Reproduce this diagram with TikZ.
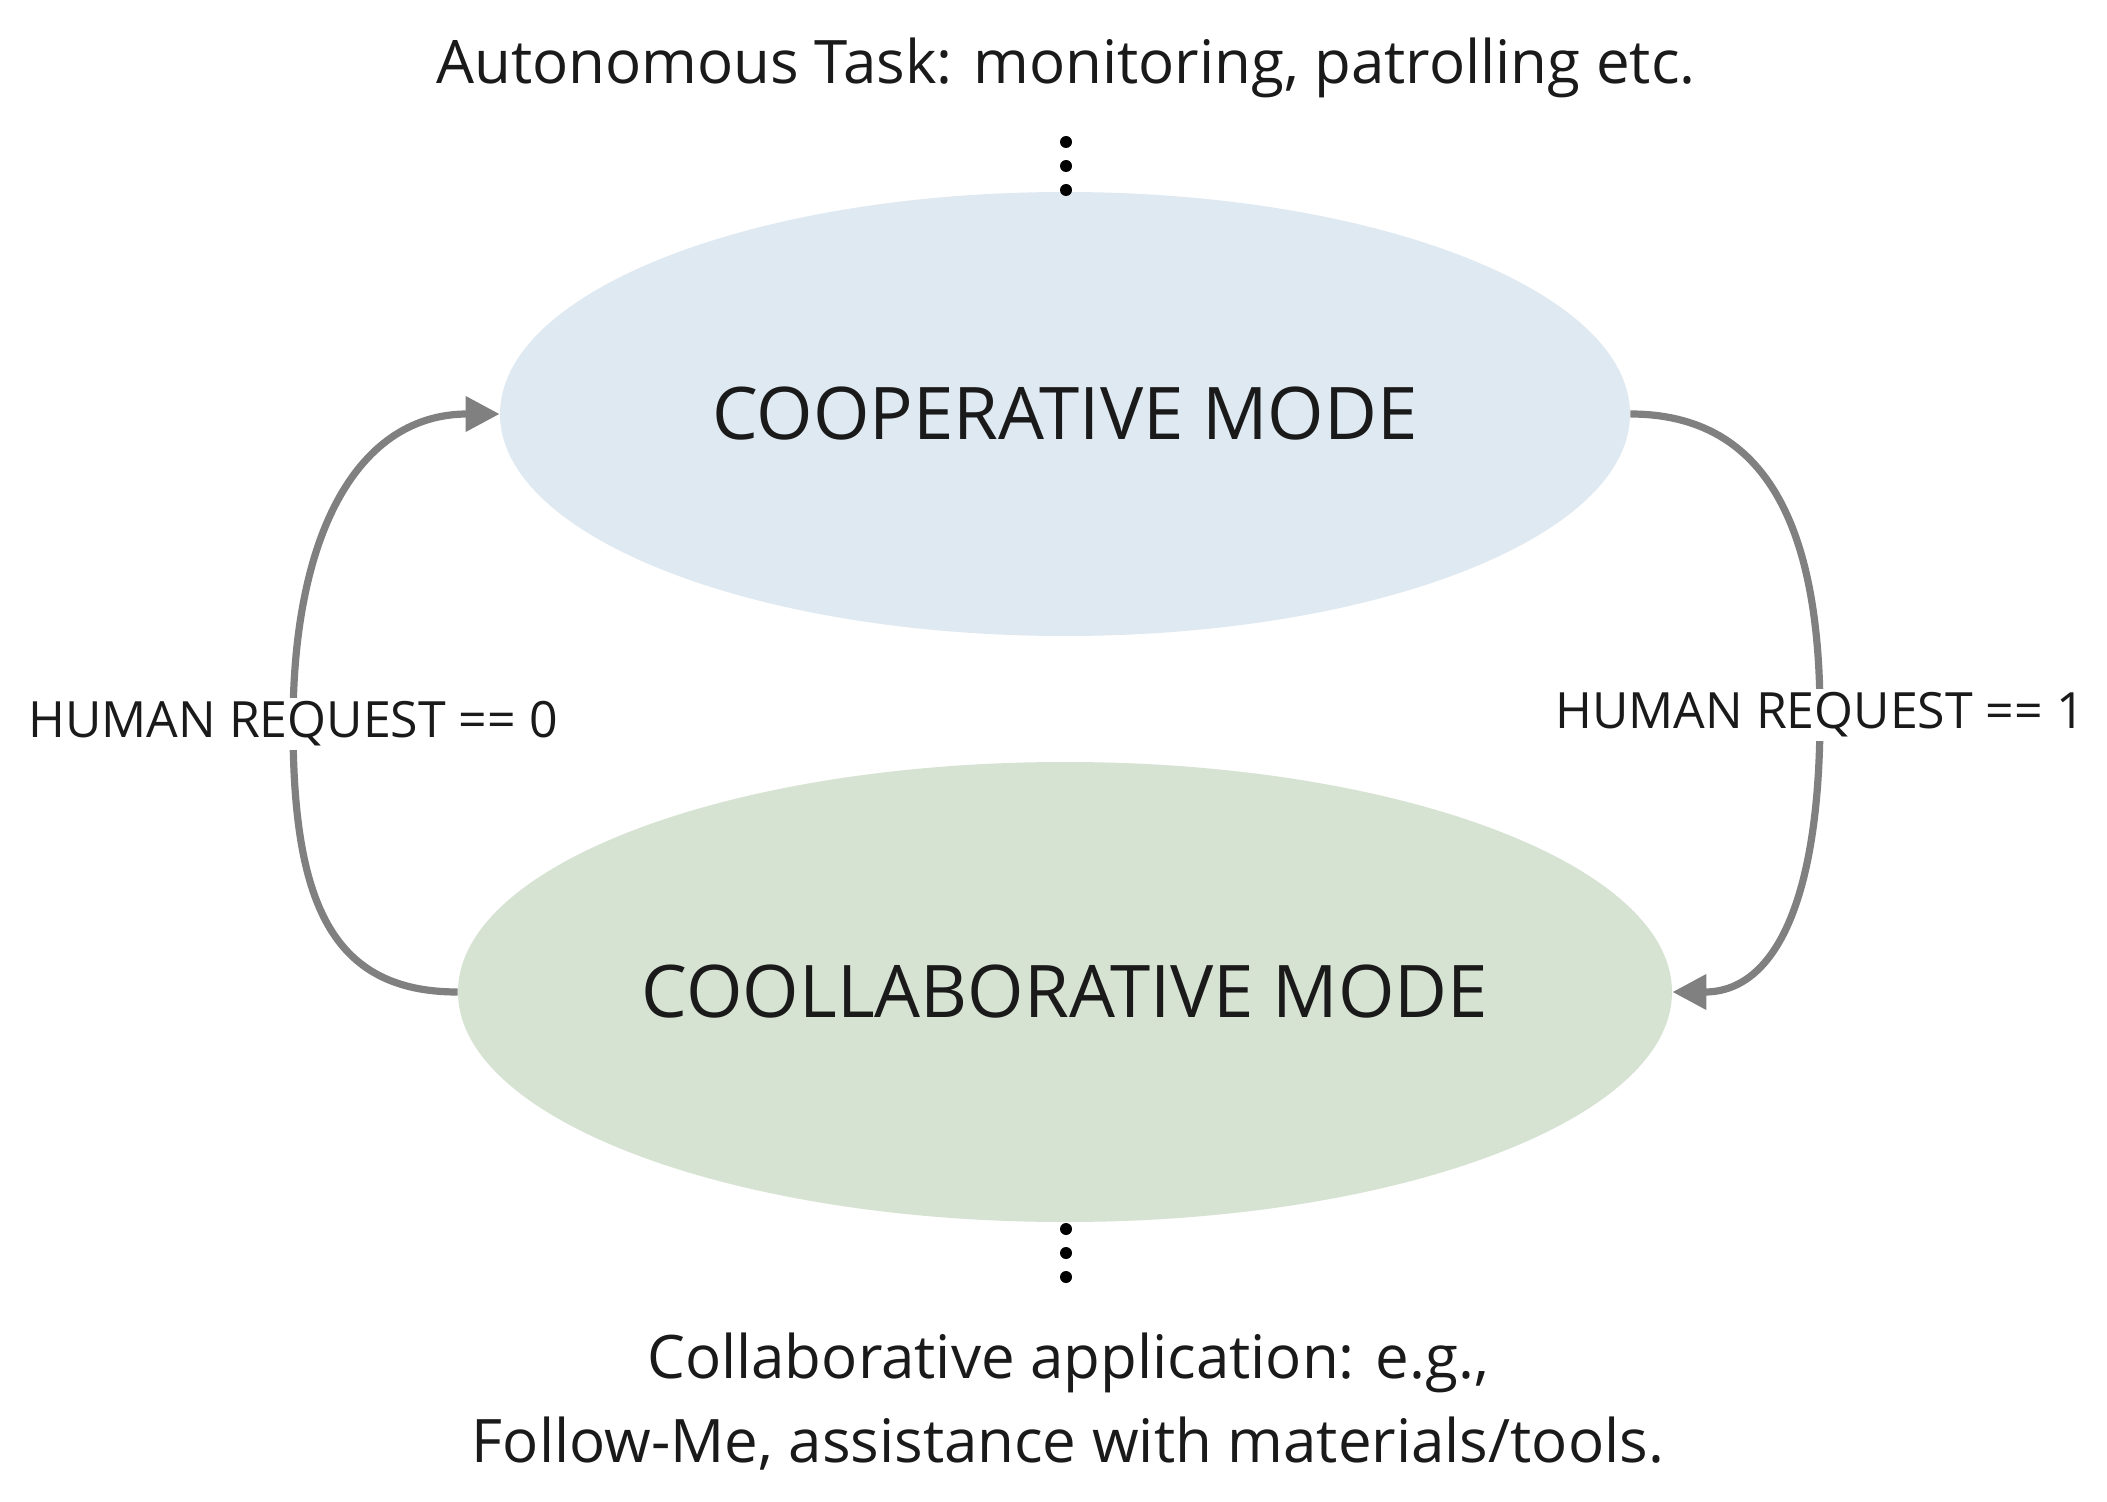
\documentclass[tikz,border=0pt]{standalone}
\usepackage{fontspec}
\setmainfont{Open Sans}
\usetikzlibrary{shapes.geometric,arrows.meta}
\definecolor{coopfill}{HTML}{DFE9F1}
\definecolor{collfill}{HTML}{D6E2D2}
\definecolor{arrowgray}{HTML}{808080}
\definecolor{txt}{HTML}{1A1A1A}
\tikzset{
  modebox/.style={ellipse, inner sep=0pt, draw=none, text=txt, font=\fontsize{36.3}{44}\selectfont},
  trans/.style={draw=arrowgray, line width=3.6pt, -{Triangle[length=17pt,width=17pt]}},
  translabel/.style={fill=white, text=txt, inner sep=2pt, font=\fontsize{25}{30}\selectfont},
  dotsline/.style={line width=6pt, line cap=round, dash pattern=on 0pt off 12pt},
  note/.style={text=txt, inner sep=0pt, font=\fontsize{30}{42}\selectfont, align=center}
}
\begin{document}
\begin{tikzpicture}[x=0.5pt,y=-0.5pt]
\useasboundingbox[fill=white] (0,0) rectangle (2107,1502);
\node[modebox, fill=coopfill, minimum width=565pt, minimum height=222pt] (coop) at (1065,414) {\makebox[0pt][c]{COOPERATIVE MODE}};
\node[modebox, fill=collfill, minimum width=607pt, minimum height=230pt] (coll) at (1065,992) {\makebox[0pt][c]{COOLLABORATIVE MODE}};
\node[note, anchor=base] (auto) at (1066,84) {Autonomous Task: monitoring, patrolling etc.};
\node[note, anchor=base] (app) at (1068,1462) {Collaborative application: e.g.,\\Follow-Me, assistance with materials/tools.};
\coordinate (dtop) at (1066,142);
\coordinate (dbot) at (1066,1278);
\draw[dotsline] (dtop) -- (1066,191);
\draw[dotsline] (1066,1229) -- (dbot);
\draw[trans] (coll.west) .. controls (330,992) and (293,900) .. (293,724)
  node[translabel] (l0) {HUMAN REQUEST == 0}
  .. controls (293,530) and (360,414) .. (coop.west);
\draw[trans] (coop.east) .. controls (1768,414) and (1820,530) .. (1820,715)
  node[translabel] (l1) {HUMAN REQUEST == 1}
  .. controls (1820,900) and (1775,992) .. (coll.east);
\end{tikzpicture}
\end{document}
